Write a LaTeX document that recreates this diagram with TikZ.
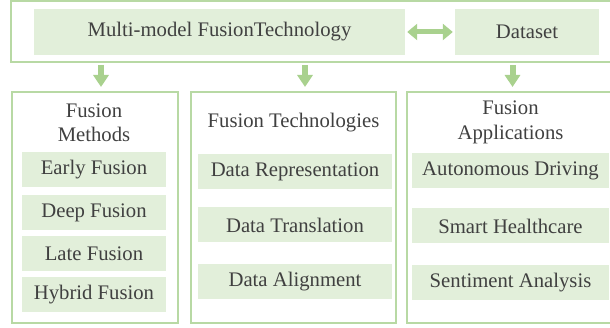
\documentclass[tikz,border=0pt]{standalone}
\usepackage{fontspec}
\setmainfont{Liberation Serif}
\usepackage{tikz}
\usetikzlibrary{arrows.meta,positioning,calc}
\definecolor{fillgreen}{RGB}{226,239,218}
\definecolor{linegreen}{RGB}{184,217,164}
\definecolor{arrgreen}{RGB}{169,209,142}
\definecolor{txtgray}{RGB}{64,64,64}
\tikzset{
  frame/.style 2 args={
    rectangle, draw=linegreen, line width=2pt,
    minimum width=#1, minimum height=#2, inner sep=0pt
  },
  gbox/.style 2 args={
    rectangle, fill=fillgreen, text=txtgray,
    minimum width=#1, minimum height=#2, inner sep=0pt
  },
  ttl/.style={text=txtgray, align=center, inner sep=0pt},
  downarr/.style={-{Triangle[width=15pt,length=12pt]}, line width=6pt, arrgreen,
    shorten <=2pt, shorten >=4pt},
  duoarr/.style={{Triangle[width=16pt,length=10pt]}-{Triangle[width=16pt,length=10pt]},
    line width=5pt, arrgreen, shorten <=2pt, shorten >=2pt}
}

\begin{document}
\begin{tikzpicture}[x=1pt,y=-1pt,font=\fontsize{20.7}{24.5}\selectfont]
  \useasboundingbox (0,0) rectangle (610,328);

  % top row
  \node[frame={603pt}{61pt}] (top) at (312.5,31.5) {};
  \node[gbox={371pt}{46pt}] (mmft) at (219.5,32) {Multi-model FusionTechnology};
  \node[gbox={144pt}{46pt}] (dset) at (527,32) {Dataset};

  % three columns
  \node[frame={166pt}{231pt}] (methods) at (95,207.5) {};
  \node[frame={205pt}{231pt}] (techs) at (293.5,207.5) {};
  \node[frame={207pt}{231pt}] (apps) at (510.5,207.5) {};

  \node[ttl] (mtitle) at (94,123) {Fusion\\Methods};
  \node[gbox={144pt}{35pt}] (early) at (94,169.5) {Early Fusion};
  \node[gbox={144pt}{35pt}] (deep) at (94,212.5) {Deep Fusion};
  \node[gbox={144pt}{35pt}] (late) at (94,253.5) {Late Fusion};
  \node[gbox={144pt}{35pt}] (hybrid) at (94,294.5) {Hybrid Fusion};

  \node[ttl] (ttitle) at (293.5,123) {Fusion Technologies};
  \node[gbox={194pt}{35pt}] (repr) at (295,171.5) {Data Representation};
  \node[gbox={194pt}{35pt}] (transl) at (295,225) {Data Translation};
  \node[gbox={194pt}{35pt}] (align) at (295,281.5) {Data Alignment};

  \node[ttl] (atitle) at (510.5,122.5) {Fusion\\Applications};
  \node[gbox={197pt}{35pt}] (auto) at (510.5,171) {Autonomous Driving};
  \node[gbox={197pt}{35pt}] (health) at (510.5,226) {Smart Healthcare};
  \node[gbox={197pt}{35pt}] (senti) at (510.5,283) {Sentiment Analysis};

  % arrows
  \draw[duoarr] (mmft.east) -- (dset.west);
  \draw[downarr] ([xshift=6pt]methods.north |- top.south) -- ([xshift=6pt]methods.north);
  \draw[downarr] ([xshift=11.5pt]techs.north |- top.south) -- ([xshift=11.5pt]techs.north);
  \draw[downarr] ([xshift=2pt]apps.north |- top.south) -- ([xshift=2pt]apps.north);
\end{tikzpicture}
\end{document}
